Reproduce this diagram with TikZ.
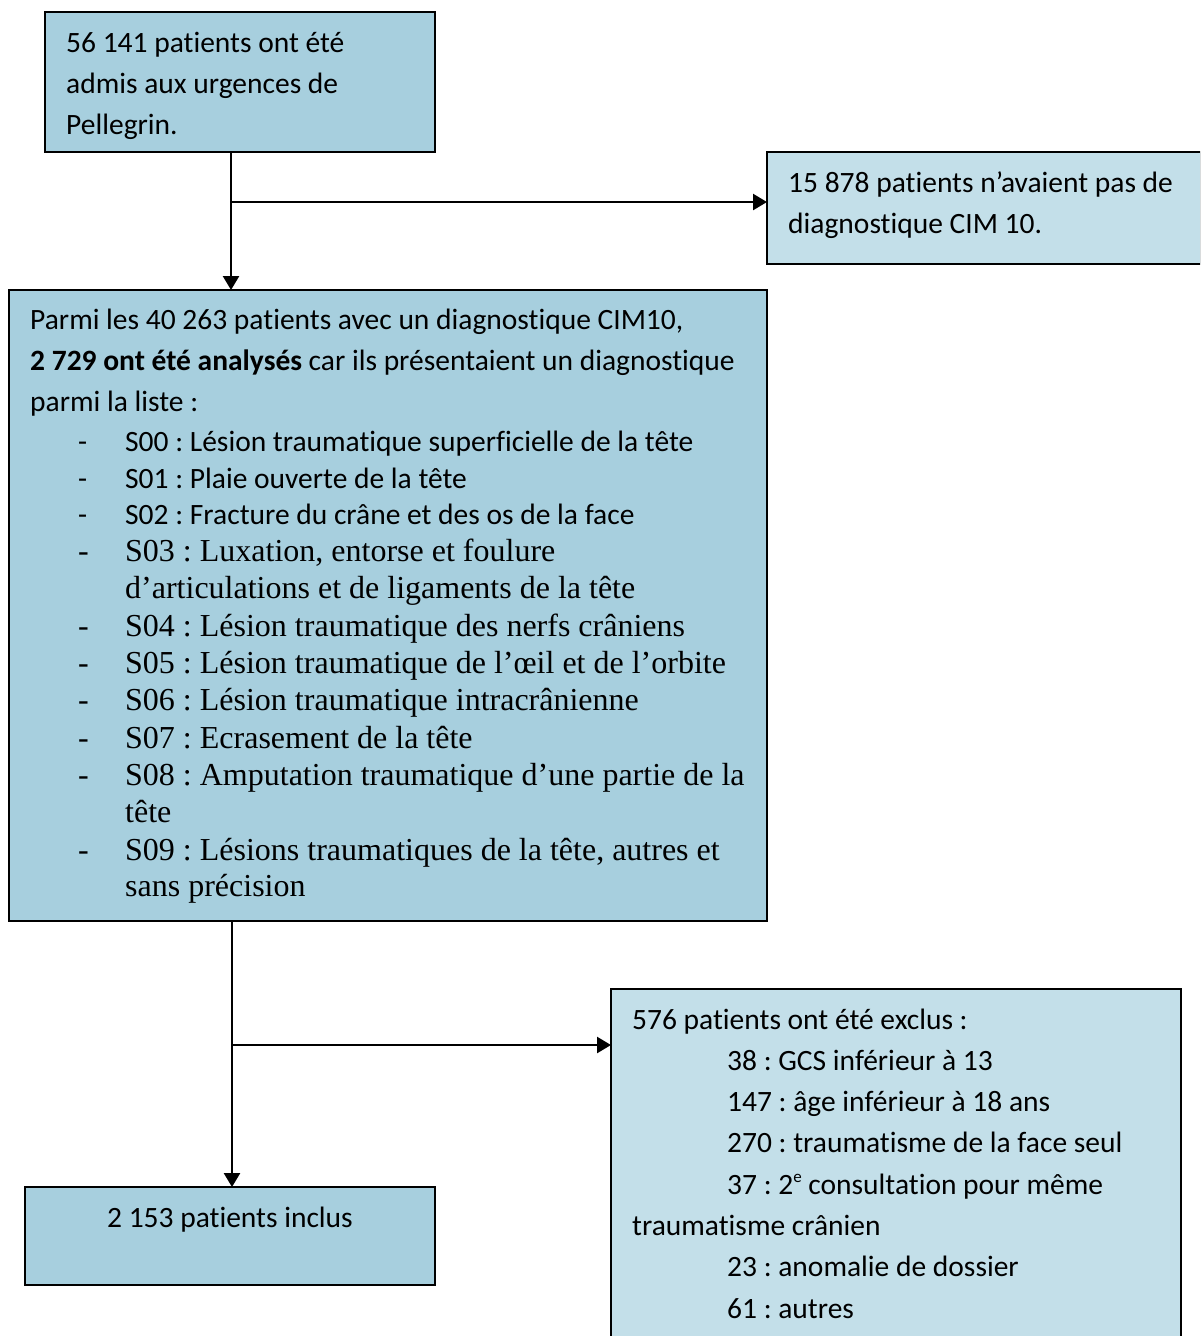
\documentclass[tikz,border=0pt]{standalone}
\usepackage{fontspec}
\newfontfamily\calfont[Ligatures=NoCommon]{Carlito}
\newfontfamily\tnrfont{Liberation Serif}
\usetikzlibrary{arrows.meta}
\definecolor{boxdark}{HTML}{A7CFDE}
\definecolor{boxlight}{HTML}{C3DFE9}
\frenchspacing
\begin{document}
\begin{tikzpicture}[x=1pt,y=-1pt,
  box/.style={draw=black, line width=2pt, inner sep=0pt, outer sep=0pt, anchor=north west},
  dark/.style={box, fill=boxdark},
  light/.style={box, fill=boxlight},
  ct/.style={anchor=base west, inner sep=0pt, font=\calfont\fontsize{29.5}{34}\selectfont},
  st/.style={anchor=base west, inner sep=0pt, font=\tnrfont\fontsize{32}{34}\selectfont},
  arr/.style={line width=2.5pt, -{Triangle[width=16pt,length=14pt]}}]
\clip (0,0) rectangle (1200,1336);
\fill[white] (0,0) rectangle (1200,1336);
% boxes
\node[dark, minimum width=390pt, minimum height=140pt] (b1) at (45,12) {};
\node[light, minimum width=434pt, minimum height=112pt] (b2) at (767,152) {};
\node[dark, minimum width=758pt, minimum height=631pt] (b3) at (9,290) {};
\node[light, minimum width=570pt, minimum height=370pt] (b4) at (611,989) {};
\node[dark, minimum width=410pt, minimum height=98pt] (b5) at (25,1187) {};
% connectors
\coordinate (j1) at (231,202);
\coordinate (j2) at (232,1045);
\draw[arr] (b1.south -| j1) -- (b3.north -| j1);
\draw[arr] (j1) -- (j1 -| b2.west);
\draw[arr] (b3.south -| j2) -- (b5.north -| j2);
\draw[arr] (j2) -- (j2 -| b4.west);
% box 1
\node[ct] (t11) at (66,52) {56 141 patients ont été};
\node[ct] (t12) at (66,93) {admis aux urgences de};
\node[ct] (t13) at (66,134) {Pellegrin.};
% box 2
\node[ct] (t21) at (788,192) {15 878 patients n’avaient pas de};
\node[ct] (t22) at (788,233) {diagnostique CIM 10.};
% box 3
\node[ct] (t31) at (30,329) {Parmi les 40 263 patients avec un diagnostique CIM10,};
\node[ct] (t32) at (30,370) {\textbf{2 729 ont été analysés} car ils présentaient un diagnostique};
\node[ct] (t33) at (30,411) {parmi la liste :};
\foreach \y/\n in {451/a,488/b,524/c} {\node[ct] (d\n) at (78,\y) {-};}
\node[ct] (l0) at (125,451) {S00 : Lésion traumatique superficielle de la tête};
\node[ct] (l1) at (125,488) {S01 : Plaie ouverte de la tête};
\node[ct] (l2) at (125,524) {S02 : Fracture du crâne et des os de la face};
\foreach \y/\n in {561/d,636/e,673/f,710/g,748/h,785/i,860/j} {\node[st] (d\n) at (78,\y) {-};}
\node[st] (l3) at (125,561) {S03 : Luxation, entorse et foulure};
\node[st] (l3b) at (125,598) {d’articulations et de ligaments de la tête};
\node[st] (l4) at (125,636) {S04 : Lésion traumatique des nerfs crâniens};
\node[st] (l5) at (125,673) {S05 : Lésion traumatique de l’œil et de l’orbite};
\node[st] (l6) at (125,710) {S06 : Lésion traumatique intracrânienne};
\node[st] (l7) at (125,748) {S07 : Ecrasement de la tête};
\node[st] (l8) at (125,785) {S08 : Amputation traumatique d’une partie de la};
\node[st] (l8b) at (125,822) {tête};
\node[st] (l9) at (125,860) {S09 : Lésions traumatiques de la tête, autres et};
\node[st] (l9b) at (125,896) {sans précision};
% box 4
\node[ct] (t41) at (632,1029) {576 patients ont été exclus :};
\node[ct] (t42) at (727,1070) {38 : GCS inférieur à 13};
\node[ct] (t43) at (727,1111) {147 : âge inférieur à 18 ans};
\node[ct] (t44) at (727,1152) {270 : traumatisme de la face seul};
\node[ct] (t45) at (727,1194) {37 : 2\raisebox{0.4em}{\fontsize{17}{17}\selectfont e} consultation pour même};
\node[ct] (t46) at (632,1235) {traumatisme crânien};
\node[ct] (t47) at (727,1276) {23 : anomalie de dossier};
\node[ct] (t48) at (727,1318) {61 : autres};
% box 5
\node[ct, anchor=base] (t51) at (230,1227) {2 153 patients inclus};
\end{tikzpicture}
\end{document}
